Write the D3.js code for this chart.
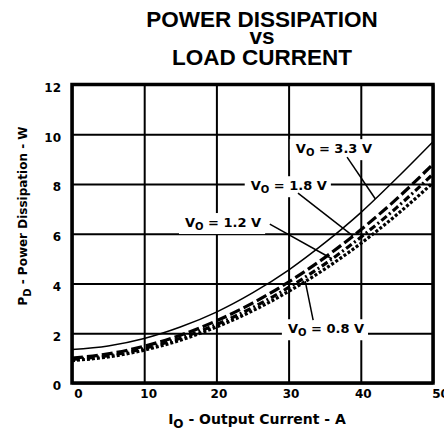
<!DOCTYPE html>
<html>
<head>
<meta charset="utf-8">
<script src="https://cdn.jsdelivr.net/npm/d3@7"></script>
<style>
  body { margin: 0; background: #fff; }
  svg { display: block; }
  text { font-family: "DejaVu Sans", sans-serif; font-weight: bold; fill: #000; }
</style>
</head>
<body>
<div id="chart"></div>
<script>
// values
const currentA = [0, 5, 10, 15, 20, 25, 30, 35, 40, 45, 50];
const pd33 = [1.35, 1.49, 1.79, 2.25, 2.85, 3.62, 4.54, 5.63, 6.85, 8.24, 9.7];
const pd18 = [1.0, 1.17, 1.48, 1.92, 2.5, 3.21, 4.06, 5.04, 6.16, 7.41, 8.8];
const pd12 = [0.95, 1.1, 1.39, 1.8, 2.35, 3.03, 3.84, 4.78, 5.86, 7.06, 8.4];
const pd08 = [0.9, 1.05, 1.32, 1.72, 2.25, 2.9, 3.68, 4.58, 5.61, 6.77, 8.05];
const voltLabels = ["3.3", "1.8", "1.2", "0.8"];
const xTicks = [0, 10, 20, 30, 40, 50];
const yTicks = [0, 2, 4, 6, 8, 10, 12];
const titleLines = ["POWER DISSIPATION", "vs", "LOAD CURRENT"];

const W = 444, H = 432;
const margin = { top: 84.5, right: 11, bottom: 49, left: 72 };
const width = W - margin.left - margin.right;
const height = H - margin.top - margin.bottom;

const svg = d3.select("#chart")
    .append("svg")
    .attr("width", W)
    .attr("height", H);

const g = svg.append("g")
    .attr("transform", `translate(${margin.left},${margin.top})`);

const x = d3.scaleLinear().domain([0, 50]).range([0, width]);
const y = d3.scaleLinear().domain([0, 12]).range([height, 0]);

// title
svg.append("g").selectAll("text")
    .data(titleLines)
    .enter()
    .append("text")
    .attr("x", 262)
    .attr("y", (d, i) => [27, 44, 65][i])
    .attr("text-anchor", "middle")
    .style("font-family", "'Liberation Sans', Arial, sans-serif")
    .style("font-size", "22.5px")
    .text(d => d);

// grid + tick labels
const xShift = [6, 4, 2, 2, 2, 7];
const gx = g.append("g")
    .attr("transform", `translate(0,${height})`)
    .call(d3.axisBottom(x).tickValues(xTicks).tickSizeInner(-height).tickSizeOuter(0).tickPadding(6));
gx.select(".domain").remove();
gx.selectAll("line").attr("stroke", "#000").attr("stroke-width", 2);
gx.selectAll("text").attr("dx", (d, i) => xShift[i]).style("font-size", "12px").style("font-family", "DejaVu Sans").style("font-weight", "bold");

const gy = g.append("g")
    .call(d3.axisLeft(y).tickValues(yTicks).tickSizeInner(-width).tickSizeOuter(0).tickPadding(11));
gy.select(".domain").remove();
gy.selectAll("line").attr("stroke", "#000").attr("stroke-width", 2);
gy.selectAll("text").attr("dy", "0.57em").style("font-size", "12px").style("font-family", "DejaVu Sans").style("font-weight", "bold");

// frame
g.append("rect")
    .attr("width", width)
    .attr("height", height)
    .attr("fill", "none")
    .attr("stroke", "#000")
    .attr("stroke-width", 3.5);

// curves
const series = [
    { v: voltLabels[0], values: pd33, width: 1.5, dash: null },
    { v: voltLabels[1], values: pd18, width: 3.2, dash: "11,4" },
    { v: voltLabels[2], values: pd12, width: 3.2, dash: "7,3,2,3" },
    { v: voltLabels[3], values: pd08, width: 3.2, dash: "3,2" }
];

const line = d3.line()
    .x((d, i) => x(currentA[i]))
    .y(d => y(d))
    .curve(d3.curveMonotoneX);

g.append("g").selectAll("path")
    .data(series)
    .enter()
    .append("path")
    .attr("d", d => line(d.values))
    .attr("fill", "none")
    .attr("stroke", "#000")
    .attr("stroke-width", d => d.width)
    .attr("stroke-dasharray", d => d.dash);

function valueAt(values, a) {
    const i = Math.min(d3.bisectRight(currentA, a) - 1, currentA.length - 2);
    const t = (a - currentA[i]) / (currentA[i + 1] - currentA[i]);
    return values[i] + t * (values[i + 1] - values[i]);
}

// annotations: text spot, leader start (data units) and the current where the leader hits the curve
const notes = [
    { s: series[0], tx: 31.0, ty: 9.24, anchor: "start", lx: 38.1, ly: 9.08, hit: 42.0 },
    { s: series[1], tx: 35.3, ty: 7.75, anchor: "end", lx: 31.3, ly: 7.63, hit: 38.9 },
    { s: series[2], tx: 15.65, ty: 6.27, anchor: "start", lx: 27.4, ly: 6.39, hit: 36.0 },
    { s: series[3], tx: 29.9, ty: 2.0, anchor: "start", lx: 33.4, ly: 2.53, hit: 32.3 }
];

notes.forEach(n => {
    const ng = g.append("g");
    const t = ng.append("text")
        .attr("x", x(n.tx))
        .attr("y", y(n.ty))
        .attr("text-anchor", n.anchor)
        .style("font-size", "13px");
    t.append("tspan").text("V");
    t.append("tspan").attr("dy", 3).style("font-size", "10px").text("O");
    t.append("tspan").attr("dy", -3).text(` = ${n.s.v} V`);
    const bb = t.node().getBBox();
    ng.insert("rect", "text")
        .attr("x", bb.x - 6)
        .attr("y", bb.y - 2)
        .attr("width", bb.width + 10)
        .attr("height", bb.height + 4)
        .attr("fill", "#fff");
    g.append("line")
        .attr("x1", x(n.lx))
        .attr("y1", y(n.ly))
        .attr("x2", x(n.hit))
        .attr("y2", y(valueAt(n.s.values, n.hit)))
        .attr("stroke", "#000")
        .attr("stroke-width", 1.5);
});

// axis titles
const xt = svg.append("text")
    .attr("x", 257)
    .attr("y", 424)
    .attr("text-anchor", "middle")
    .style("font-size", "14px");
xt.append("tspan").text("I");
xt.append("tspan").attr("dy", 4).style("font-size", "12px").text("O");
xt.append("tspan").attr("dy", -4).text(" - Output Current - A");

const yt = svg.append("text")
    .attr("transform", "translate(27,216) rotate(-90)")
    .attr("text-anchor", "middle")
    .style("font-size", "12px");
yt.append("tspan").text("P");
yt.append("tspan").attr("dy", 4).style("font-size", "10px").text("D");
yt.append("tspan").attr("dy", -4).text(" - Power Dissipation - W");
</script>
</body>
</html>
